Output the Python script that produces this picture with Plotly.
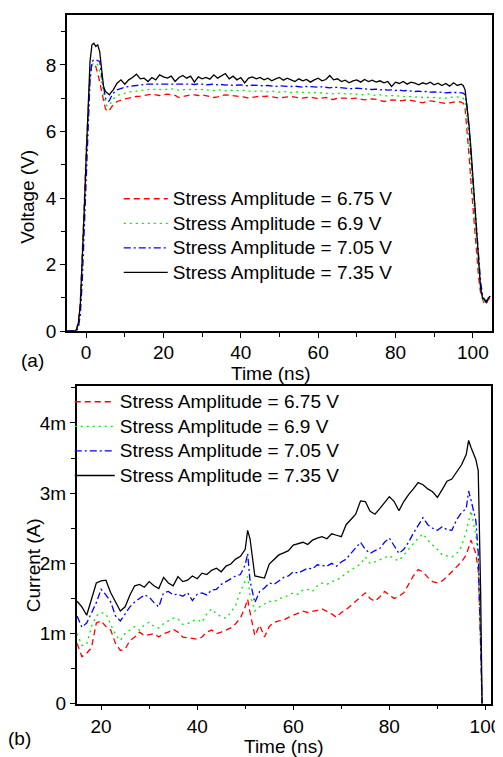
import plotly.graph_objects as go
import numpy as np

W, H = 503, 757

# ---- (a) voltage waveforms, time in ns ----
t_v = ([-5, -4, -3, -2.5, -2, -1.5, -1, -0.5, 0, 0.5, 1, 1.5, 2, 2.5, 3, 3.5, 4, 4.5, 5, 5.5, 6, 6.5]
       + list(range(7, 98))
       + [97.5, 98, 98.5, 99, 99.5, 100, 100.5, 101, 101.5, 102, 102.5, 103, 103.5, 104, 104.5])

v_675 = [0, 0, 0, 0.05, 0.3, 0.9, 2.2, 3.8, 5.4, 6.8, 7.7, 8.0, 8.02, 7.95, 7.75, 7.5, 7.2, 6.9, 6.68, 6.6, 6.63, 6.72,
         6.80, 6.90, 6.95, 6.98, 7.00, 7.03, 7.05, 7.06, 7.08, 7.10,
         7.12, 7.10, 7.08, 7.10, 7.12, 7.10, 7.08, 7.02, 7.05, 7.08,
         7.10, 7.10, 7.08, 7.10, 7.08, 7.05, 7.02, 7.04, 7.08, 7.10,
         7.09, 7.08, 7.06, 7.05, 7.03, 7.00, 7.02, 7.05, 7.06, 7.05,
         7.06, 7.04, 7.03, 7.00, 7.02, 7.04, 7.05, 7.03, 7.02, 7.00,
         7.02, 7.03, 7.01, 6.98, 7.00, 7.02, 6.97, 6.96, 7.00, 7.01,
         7.00, 6.98, 6.99, 7.00, 6.97, 6.95, 6.96, 6.98, 6.96, 6.92,
         6.90, 6.92, 6.95, 6.94, 6.92, 6.93, 6.95, 6.93, 6.90, 6.88,
         6.86, 6.90, 6.92, 6.90, 6.88, 6.86, 6.84, 6.86, 6.88, 6.90,
         6.88,
         6.85, 6.7, 6.1, 5.3, 4.5, 3.7, 2.9, 2.2, 1.6, 1.15, 0.95, 0.8, 0.85, 0.95, 1.0]

v_690 = [0, 0, 0, 0.03, 0.2, 0.7, 1.9, 3.5, 5.1, 6.6, 7.6, 8.0, 8.05, 8.05, 8.0, 7.8, 7.5, 7.1, 6.85, 6.75, 6.78, 6.88,
         6.98, 7.08, 7.12, 7.15, 7.18, 7.20, 7.22, 7.24, 7.25, 7.26,
         7.25, 7.27, 7.26, 7.25, 7.27, 7.28, 7.26, 7.24, 7.25, 7.27,
         7.26, 7.25, 7.27, 7.26, 7.24, 7.25, 7.23, 7.25, 7.24, 7.22,
         7.24, 7.23, 7.21, 7.22, 7.24, 7.22, 7.20, 7.21, 7.22, 7.20,
         7.19, 7.21, 7.20, 7.18, 7.20, 7.19, 7.17, 7.19, 7.18, 7.17,
         7.18, 7.16, 7.17, 7.15, 7.16, 7.14, 7.15, 7.13, 7.14, 7.15,
         7.13, 7.12, 7.14, 7.12, 7.10, 7.11, 7.12, 7.10, 7.08, 7.10,
         7.08, 7.06, 7.08, 7.07, 7.05, 7.06, 7.04, 7.05, 7.03, 7.04,
         7.02, 7.03, 7.01, 7.02, 7.00, 7.01, 7.00, 7.02, 7.03, 7.04,
         7.02,
         7.0, 6.9, 6.4, 5.7, 4.9, 4.1, 3.3, 2.6, 1.9, 1.35, 1.0, 0.85, 0.88, 0.98, 1.02]

v_705 = [0, 0, 0, 0.02, 0.1, 0.5, 1.5, 3.0, 4.7, 6.3, 7.5, 8.1, 8.15, 8.15, 8.12, 8.1, 7.7, 7.3, 7.0, 6.9, 6.92, 7.05,
         7.15, 7.25, 7.30, 7.33, 7.35, 7.37, 7.38, 7.40, 7.41, 7.42,
         7.42, 7.43, 7.42, 7.43, 7.44, 7.43, 7.42, 7.43, 7.44, 7.43,
         7.42, 7.41, 7.43, 7.42, 7.40, 7.41, 7.42, 7.40, 7.41, 7.39,
         7.40, 7.38, 7.39, 7.40, 7.38, 7.37, 7.39, 7.38, 7.36, 7.37,
         7.38, 7.36, 7.35, 7.37, 7.36, 7.34, 7.35, 7.36, 7.34, 7.33,
         7.35, 7.34, 7.32, 7.33, 7.34, 7.32, 7.31, 7.33, 7.32, 7.30,
         7.31, 7.30, 7.28, 7.30, 7.29, 7.27, 7.28, 7.26, 7.27, 7.25,
         7.26, 7.24, 7.25, 7.23, 7.24, 7.22, 7.23, 7.21, 7.20, 7.21,
         7.19, 7.20, 7.18, 7.19, 7.17, 7.18, 7.16, 7.17, 7.18, 7.17,
         7.16,
         7.15, 7.1, 6.75, 6.1, 5.3, 4.5, 3.7, 2.9, 2.2, 1.5, 1.1, 0.95, 0.9, 1.0, 1.05]

v_735 = [0, 0, 0, 0.05, 0.25, 0.8, 2.0, 3.6, 5.2, 6.9, 8.1, 8.6, 8.65, 8.55, 8.6, 8.4, 7.8, 7.35, 7.2, 7.15, 7.1, 7.18,
         7.25, 7.45, 7.55, 7.42, 7.55, 7.62, 7.72, 7.58, 7.60, 7.50,
         7.62, 7.55, 7.70, 7.64, 7.60, 7.66, 7.50, 7.62, 7.68, 7.60,
         7.66, 7.48, 7.64, 7.58, 7.62, 7.57, 7.70, 7.60, 7.66, 7.74,
         7.58, 7.66, 7.55, 7.62, 7.46, 7.60, 7.64, 7.58, 7.62, 7.55,
         7.60, 7.52, 7.58, 7.62, 7.54, 7.60, 7.55, 7.50, 7.58, 7.52,
         7.56, 7.48, 7.55, 7.60, 7.52, 7.56, 7.68, 7.55, 7.58, 7.50,
         7.54, 7.46, 7.52, 7.55, 7.48, 7.56, 7.50, 7.54, 7.48, 7.52,
         7.46, 7.50, 7.35, 7.48, 7.44, 7.50, 7.42, 7.48, 7.45, 7.40,
         7.46, 7.42, 7.48, 7.40, 7.45, 7.38, 7.44, 7.36, 7.46, 7.38,
         7.42,
         7.38, 7.25, 6.8, 6.2, 5.5, 4.7, 3.8, 3.0, 2.1, 1.3, 1.0, 0.95, 0.85, 1.0, 1.05]

# ---- (b) current waveforms, time in ns, current in mA ----
t_i = list(range(15, 51)) + [50.5] + list(range(51, 97)) + [96.5, 97, 98, 98.5, 99, 99.3]

i_675 = [0.86, 0.67, 0.72, 0.80, 1.15, 1.18, 1.10, 1.05, 0.86, 0.76,
         0.78, 0.90, 0.95, 1.02, 0.97, 0.98, 1.00, 0.95, 1.00, 1.02,
         1.06, 1.02, 0.95, 0.94, 0.93, 0.92, 0.95, 1.02, 1.05, 1.00,
         1.02, 1.05, 1.08, 1.14, 1.22, 1.38,
         1.49,
         1.30, 0.97, 1.12, 0.95, 1.10, 1.16, 1.18, 1.19, 1.23, 1.26,
         1.30, 1.32, 1.30, 1.31, 1.33, 1.35, 1.32, 1.28, 1.23, 1.30,
         1.34, 1.40, 1.45, 1.51, 1.58, 1.50, 1.46, 1.52, 1.60, 1.55,
         1.50, 1.53, 1.58, 1.70, 1.82, 1.91, 1.88, 1.80, 1.74, 1.72,
         1.75, 1.81, 1.88, 1.96, 2.02, 2.12,
         2.21, 2.33, 2.14, 1.90, 0.9, 0.0]

i_690 = [1.00, 0.83, 0.85, 1.10, 1.25, 1.30, 1.28, 1.12, 0.98, 0.90,
         1.00, 1.05, 1.10, 1.05, 1.12, 1.16, 1.10, 1.08, 1.14, 1.18,
         1.22, 1.21, 1.13, 1.14, 1.18, 1.20, 1.16, 1.28, 1.35, 1.28,
         1.24, 1.22, 1.30, 1.40, 1.60, 1.75,
         1.81,
         1.55, 1.32, 1.38, 1.42, 1.46, 1.45, 1.50, 1.51, 1.55, 1.58,
         1.56, 1.62, 1.63, 1.60, 1.68, 1.72, 1.70, 1.74, 1.76, 1.80,
         1.86, 1.90, 1.95, 1.99, 2.09, 2.00, 2.02, 2.05, 2.08, 2.11,
         2.06, 2.04, 2.12, 2.20, 2.27, 2.36, 2.42, 2.33, 2.26, 2.20,
         2.12, 2.10, 2.09, 2.14, 2.24, 2.45,
         2.61, 2.75, 2.40, 2.09, 1.0, 0.0]

i_705 = [1.25, 1.09, 1.15, 1.30, 1.44, 1.63, 1.55, 1.45, 1.25, 1.18,
         1.28, 1.38, 1.45, 1.50, 1.55, 1.52, 1.44, 1.38, 1.58, 1.60,
         1.55, 1.56, 1.53, 1.58, 1.47, 1.56, 1.58, 1.55, 1.62, 1.63,
         1.70, 1.74, 1.78, 1.82, 1.84, 1.98,
         2.14,
         1.75, 1.44, 1.60, 1.65, 1.72, 1.70, 1.75, 1.80, 1.82, 1.88,
         1.86, 1.90, 1.93, 1.92, 1.98, 1.97, 1.96, 2.00, 1.96, 2.02,
         2.06, 2.14, 2.22, 2.30, 2.20, 2.14, 2.18, 2.21, 2.30, 2.36,
         2.25, 2.14, 2.20, 2.30, 2.43, 2.55, 2.65, 2.55, 2.50, 2.47,
         2.52, 2.48, 2.47, 2.62, 2.72, 2.78,
         3.03, 2.90, 2.61, 2.15, 1.0, 0.0]

i_735 = [1.46, 1.38, 1.26, 1.48, 1.72, 1.75, 1.76, 1.58, 1.46, 1.32,
         1.38, 1.55, 1.68, 1.70, 1.66, 1.74, 1.68, 1.64, 1.80, 1.72,
         1.68, 1.81, 1.74, 1.76, 1.82, 1.78, 1.86, 1.84, 1.90, 1.93,
         1.88, 1.96, 1.99, 2.06, 2.10, 2.20,
         2.47,
         2.35, 1.82, 1.80, 1.79, 1.99, 2.05, 2.12, 2.15, 2.18, 2.26,
         2.28, 2.30, 2.27, 2.33, 2.36, 2.38, 2.35, 2.42, 2.40, 2.38,
         2.55, 2.62, 2.70, 2.89, 2.88, 2.74, 2.70, 2.78, 2.86, 2.95,
         2.88, 2.75, 2.88, 2.98, 3.06, 3.15, 3.12, 3.06, 3.02, 2.94,
         3.05, 3.17, 3.20, 3.30, 3.40, 3.55,
         3.75, 3.65, 3.48, 3.32, 1.6, 0.0]

names = ['Stress Amplitude = 6.75 V', 'Stress Amplitude = 6.9 V',
         'Stress Amplitude = 7.05 V', 'Stress Amplitude = 7.35 V']
colors = ['#ff0000', '#00ee00', '#0000ff', '#000000']
dashes = ['6px,4px', '2px,4px', '7px,3px,2px,3px', 'solid']

FONT = 'Arial, Liberation Sans, sans-serif'
FS = 19


def px_x(p):
    return p / W


def px_y(p):
    return 1 - p / H


fig = go.Figure()

for name, v, c, d in zip(names, [v_675, v_690, v_705, v_735], colors, dashes):
    fig.add_trace(go.Scatter(x=t_v, y=v, mode='lines', xaxis='x', yaxis='y',
                             name=f"<span style='font-size:{FS}px'>{name}</span>",
                             line=dict(color=c, width=1.3, dash=d), legend='legend'))

for name, i, c, d in zip(names, [i_675, i_690, i_705, i_735], colors, dashes):
    fig.add_trace(go.Scatter(x=t_i, y=np.array(i) * 1e-3, mode='lines', xaxis='x2', yaxis='y2',
                             name=f"<span style='font-size:{FS}px'>{name}</span>",
                             line=dict(color=c, width=1.3, dash=d), legend='legend2'))

axis_common = dict(showline=True, linecolor='black', linewidth=1.5, mirror=True,
                   ticks='outside', ticklen=5, tickwidth=1.2, tickcolor='black',
                   showgrid=False, zeroline=False,
                   tickfont=dict(family=FONT, size=FS, color='black'))

annotations = [
    dict(text='Time (ns)', x=px_x(268), y=px_y(371)),
    dict(text='Time (ns)', x=px_x(282), y=px_y(749)),
    dict(text='Voltage (V)', x=px_x(20), y=px_y(192), textangle=-90),
    dict(text='Current (A)', x=px_x(26), y=px_y(565), textangle=-90),
    dict(text='(a)', x=px_x(25), y=px_y(358)),
    dict(text='(b)', x=px_x(12), y=px_y(741)),
]
for a in annotations:
    a.update(xref='paper', yref='paper', showarrow=False, xanchor='center', yanchor='middle',
             font=dict(family=FONT, size=FS, color='black'))

fig.update_layout(
    width=W, height=H,
    margin=dict(l=0, r=0, t=0, b=0),
    paper_bgcolor='white', plot_bgcolor='white',
    font=dict(family=FONT, size=FS, color='black'),
    xaxis=dict(domain=[px_x(60), px_x(494)], range=[-5, 105], anchor='y',
               tickmode='linear', tick0=0, dtick=20, ticklabelstandoff=-2,
               minor=dict(ticks='outside', ticklen=4, tickcolor='black', dtick=10, tick0=0),
               **axis_common),
    yaxis=dict(domain=[px_y(328), px_y(7)], range=[0, 9.5], anchor='x',
               tickmode='linear', tick0=0, dtick=2,
               minor=dict(ticks='outside', ticklen=4, tickcolor='black', dtick=1, tick0=0),
               **axis_common),
    xaxis2=dict(domain=[px_x(70), px_x(493)], range=[14.9, 101.2], anchor='y2',
                tickmode='linear', tick0=0, dtick=20,
                minor=dict(ticks='outside', ticklen=4, tickcolor='black', dtick=10, tick0=0),
                **axis_common),
    yaxis2=dict(domain=[px_y(706), px_y(384)], range=[0, 4.52e-3], anchor='x2',
                tickmode='linear', tick0=0, dtick=1e-3, tickformat='~s',
                minor=dict(ticks='outside', ticklen=4, tickcolor='black', dtick=5e-4, tick0=0),
                **axis_common),
    legend=dict(x=px_x(113), y=px_y(176), xanchor='left', yanchor='top',
                bgcolor='rgba(0,0,0,0)', itemwidth=44, tracegroupgap=0,
                font=dict(family=FONT, size=16.6, color='black')),
    legend2=dict(x=px_x(63), y=px_y(382), xanchor='left', yanchor='top',
                 bgcolor='rgba(0,0,0,0)', itemwidth=40, tracegroupgap=0,
                 font=dict(family=FONT, size=16.6, color='black')),
    showlegend=True,
    annotations=annotations,
)

fig.write_html("out.html")
